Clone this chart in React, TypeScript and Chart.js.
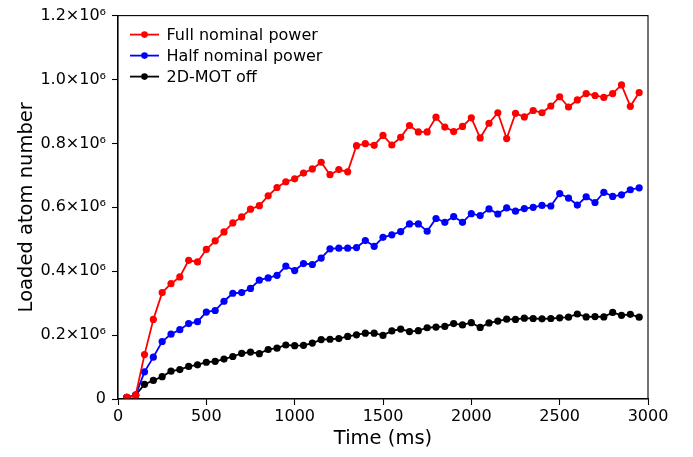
import React, { useEffect, useRef } from "react";
import { Chart, registerables } from "chart.js";

Chart.register(...registerables);

const times: number[] = [
  50, 100, 150, 200, 250, 300, 350, 400, 450, 500, 550, 600, 650, 700, 750, 800, 850, 900, 950, 1000,
  1050, 1100, 1150, 1200, 1250, 1300, 1350, 1400, 1450, 1500, 1550, 1600, 1650, 1700, 1750, 1800, 1850, 1900, 1950, 2000,
  2050, 2100, 2150, 2200, 2250, 2300, 2350, 2400, 2450, 2500, 2550, 2600, 2650, 2700, 2750, 2800, 2850, 2900, 2950,
];

// values in units of 10^6 atoms
const fullPower: number[] = [
  0.005, 0.012, 0.139, 0.249, 0.333, 0.361, 0.382, 0.434, 0.429, 0.468, 0.495, 0.523, 0.551, 0.570, 0.594, 0.605, 0.636, 0.662, 0.680, 0.689,
  0.707, 0.720, 0.741, 0.702, 0.718, 0.711, 0.793, 0.799, 0.794, 0.825, 0.795, 0.819, 0.856, 0.836, 0.836, 0.882, 0.851, 0.837, 0.853, 0.880,
  0.817, 0.863, 0.896, 0.815, 0.894, 0.883, 0.903, 0.896, 0.917, 0.946, 0.914, 0.936, 0.956, 0.950, 0.944, 0.956, 0.983, 0.916, 0.959,
];

const halfPower: number[] = [
  0.005, 0.012, 0.085, 0.131, 0.180, 0.203, 0.217, 0.236, 0.242, 0.272, 0.277, 0.306, 0.331, 0.333, 0.346, 0.372, 0.379, 0.387, 0.416, 0.402,
  0.424, 0.421, 0.441, 0.470, 0.472, 0.472, 0.474, 0.496, 0.478, 0.506, 0.514, 0.524, 0.548, 0.548, 0.525, 0.565, 0.553, 0.571, 0.553, 0.580,
  0.574, 0.595, 0.579, 0.598, 0.588, 0.596, 0.600, 0.606, 0.604, 0.643, 0.629, 0.607, 0.633, 0.615, 0.647, 0.634, 0.639, 0.655, 0.661,
];

const motOff: number[] = [
  0.005, 0.012, 0.046, 0.058, 0.070, 0.087, 0.092, 0.102, 0.107, 0.115, 0.118, 0.125, 0.133, 0.143, 0.147, 0.142, 0.155, 0.159, 0.169, 0.167,
  0.168, 0.175, 0.186, 0.187, 0.189, 0.196, 0.201, 0.206, 0.206, 0.199, 0.213, 0.219, 0.211, 0.214, 0.223, 0.225, 0.227, 0.236, 0.232, 0.239,
  0.224, 0.238, 0.244, 0.250, 0.249, 0.253, 0.252, 0.251, 0.252, 0.254, 0.256, 0.266, 0.257, 0.258, 0.257, 0.271, 0.262, 0.265, 0.256,
];

const seriesLabels: string[] = ["Full nominal power", "Half nominal power", "2D-MOT off"];
const seriesColors: string[] = ["#ff0000", "#0000ff", "#000000"];
const xTickValues: number[] = [0, 500, 1000, 1500, 2000, 2500, 3000];
const yTickValues: number[] = [0, 0.2e6, 0.4e6, 0.6e6, 0.8e6, 1.0e6, 1.2e6];

const FONT = "'DejaVu Sans', sans-serif";

const boxAndLegend = {
  id: "boxAndLegend",
  afterDraw(chart: any) {
    const { ctx, chartArea } = chart;
    const { left, top, right, bottom } = chartArea;
    ctx.save();
    ctx.strokeStyle = "#000";
    ctx.lineWidth = 1.1;
    ctx.strokeRect(left, top, right - left, bottom - top);

    ctx.font = `16px ${FONT}`;
    ctx.textBaseline = "middle";
    ctx.textAlign = "left";
    chart.data.datasets.forEach((ds: any, i: number) => {
      const y = top + 19 + i * 21;
      ctx.strokeStyle = ds.borderColor;
      ctx.lineWidth = 1.8;
      ctx.beginPath();
      ctx.moveTo(left + 12, y);
      ctx.lineTo(left + 41, y);
      ctx.stroke();
      ctx.fillStyle = ds.borderColor;
      ctx.beginPath();
      ctx.arc(left + 26.5, y, 3.3, 0, Math.PI * 2);
      ctx.fill();
      ctx.fillStyle = "#000";
      ctx.fillText(ds.label, left + 48.5, y + 1);
    });
    ctx.restore();
  },
};

export default function App() {
  const canvasRef = useRef<HTMLCanvasElement>(null);

  useEffect(() => {
    document.body.style.margin = "0";
    const canvas = canvasRef.current;
    if (!canvas) return;
    const seriesValues = [fullPower, halfPower, motOff];
    const chart = new Chart(canvas, {
      type: "line",
      data: {
        datasets: seriesValues.map((vals, i) => ({
          label: seriesLabels[i],
          data: times.map((t, j) => ({ x: t, y: vals[j] * 1e6 })),
          borderColor: seriesColors[i],
          backgroundColor: seriesColors[i],
          pointBackgroundColor: seriesColors[i],
          pointBorderWidth: 0,
          pointRadius: 3.6,
          borderWidth: 1.8,
          tension: 0,
          fill: false,
        })),
      },
      options: {
        animation: false,
        responsive: false,
        maintainAspectRatio: false,
        layout: { padding: { top: 12, right: 45, left: 0, bottom: 0 } },
        plugins: {
          legend: { display: false },
          tooltip: { enabled: false },
        },
        scales: {
          x: {
            type: "linear",
            min: 0,
            max: 3000,
            afterFit: (s: any) => {
              s.height = 58;
            },
            afterBuildTicks: (s: any) => {
              s.ticks = xTickValues.map((v) => ({ value: v }));
            },
            grid: { display: true, drawOnChartArea: false, drawTicks: true, tickLength: 6, color: "#000", tickWidth: 1.1 },
            border: { display: true, color: "#000", width: 1.1 },
            ticks: {
              color: "#000",
              font: { family: FONT, size: 16 },
              padding: 2,
              maxRotation: 0,
              callback: (v: any) => String(v),
            },
            title: {
              display: true,
              text: "Time (ms)",
              color: "#000",
              font: { family: FONT, size: 19.5, lineHeight: 1.2 },
              padding: { top: 0, bottom: 6 },
            },
          },
          y: {
            type: "linear",
            min: 0,
            max: 1.2e6,
            afterFit: (s: any) => {
              s.width = 118;
            },
            afterBuildTicks: (s: any) => {
              s.ticks = yTickValues.map((v) => ({ value: v }));
            },
            grid: { display: true, drawOnChartArea: false, drawTicks: true, tickLength: 6, color: "#000", tickWidth: 1.1 },
            border: { display: true, color: "#000", width: 1.1 },
            ticks: {
              color: "#000",
              font: { family: FONT, size: 16 },
              padding: 6,
              callback: (v: any) => (Number(v) === 0 ? "0" : (Number(v) / 1e6).toFixed(1) + "×10⁶"),
            },
            title: {
              display: true,
              text: "Loaded atom number",
              color: "#000",
              font: { family: FONT, size: 19.5, lineHeight: 1.2 },
              padding: { top: 15, bottom: 0 },
            },
          },
        },
      },
      plugins: [boxAndLegend],
    });
    return () => chart.destroy();
  }, []);

  return (
    <div style={{ width: 693, height: 457, position: "relative", background: "#fff" }}>
      <canvas ref={canvasRef} width={693} height={457} style={{ display: "block" }} />
    </div>
  );
}
